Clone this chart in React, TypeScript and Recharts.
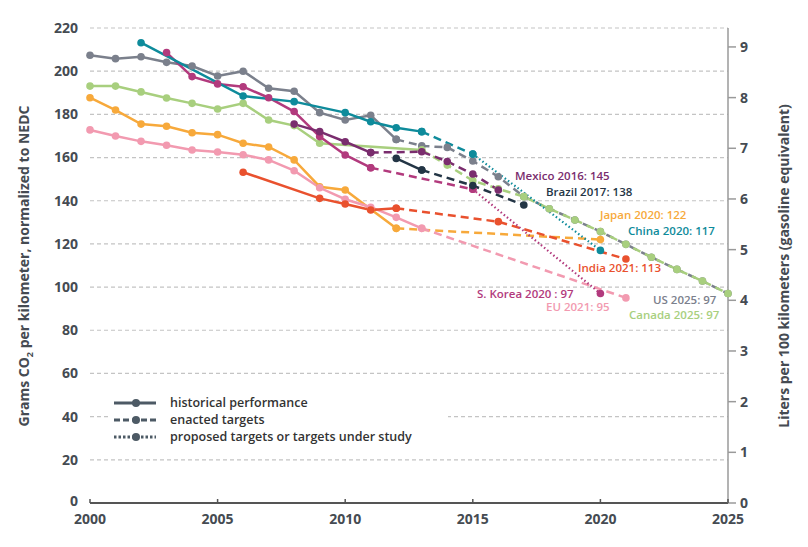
import React from "react";
import {
  CartesianGrid,
  Line,
  LineChart,
  XAxis,
  YAxis,
} from "recharts";

document.body.style.margin = "0";

const FONT = "'Open Sans', 'DejaVu Sans', sans-serif";

// [year, grams CO2/km]
const usHistorical = [
  [2000, 207.4], [2001, 205.8], [2002, 206.7], [2003, 204.1], [2004, 202.4],
  [2005, 197.8], [2006, 200], [2007, 192.1], [2008, 190.7], [2009, 180.8],
  [2010, 177.4], [2011, 179.6], [2012, 168.4],
];
const usEnacted = [
  [2012, 168.4], [2013, 165.4], [2014, 164.7], [2015, 158.4], [2016, 151.1],
  [2017, 141.9], [2018, 136.3], [2019, 131.1], [2020, 125.7], [2021, 119.8],
  [2022, 113.8], [2023, 108.2], [2024, 102.8], [2025, 97],
];
const canadaHistorical = [
  [2000, 193.1], [2001, 193.1], [2002, 190.4], [2003, 187.6], [2004, 185.1],
  [2005, 182.5], [2006, 185.1], [2007, 177.4], [2008, 174.8], [2009, 166.6],
  [2013, 163.5],
];
const canadaEnacted = [
  [2013, 163.5], [2014, 156.5], [2015, 149.3], [2016, 145.5], [2017, 141.9],
  [2018, 136.3], [2019, 131.1], [2020, 125.7], [2021, 119.8], [2022, 113.8],
  [2023, 108.2], [2024, 102.8], [2025, 97],
];
const japanHistorical = [
  [2000, 187.7], [2001, 182], [2002, 175.5], [2003, 174.5], [2004, 171.5],
  [2005, 170.6], [2006, 166.6], [2007, 164.9], [2008, 158.9], [2009, 146.5],
  [2010, 145], [2011, 136], [2012, 127.2],
];
const japanEnacted = [[2012, 127.2], [2020, 122]];
const euHistorical = [
  [2000, 172.8], [2001, 170], [2002, 167.5], [2003, 165.7], [2004, 163.5],
  [2005, 162.6], [2006, 161.3], [2007, 158.9], [2008, 153.9], [2009, 146],
  [2010, 140.7], [2011, 137], [2012, 132.3], [2013, 127.2],
];
const euEnacted = [[2013, 127.2], [2021, 95]];
const indiaHistorical = [
  [2006, 153.2], [2009, 141.1], [2010, 138.5], [2011, 135.7], [2012, 136.5],
];
const indiaEnacted = [[2012, 136.5], [2016, 130.3], [2021, 113]];
const chinaHistorical = [
  [2002, 213.2], [2006, 188.5], [2008, 185.9], [2010, 180.8], [2011, 176.6],
  [2012, 173.8], [2013, 172],
];
const chinaEnacted = [[2013, 172], [2015, 161.6]];
const chinaProposed = [[2015, 161.6], [2020, 117]];
const koreaHistorical = [
  [2003, 208.6], [2004, 197.5], [2005, 194.1], [2006, 192.8], [2007, 187.7],
  [2008, 181.3], [2009, 169.7], [2010, 161.2], [2011, 155.3],
];
const koreaEnacted = [[2011, 155.3], [2015, 145.3]];
const koreaProposed = [[2015, 145.3], [2020, 97]];
const mexicoHistorical = [[2008, 175.5], [2009, 172], [2010, 167.3], [2011, 162.3]];
const mexicoEnacted = [
  [2011, 162.3], [2013, 162.7], [2014, 158.2], [2015, 152.4], [2016, 145],
];
const brazilHistorical = [[2012, 159.6], [2013, 154.2]];
const brazilEnacted = [[2013, 154.2], [2015, 147], [2017, 138]];

const yearTicks = [2000, 2005, 2010, 2015, 2020, 2025];
const gramTicks = [0, 20, 40, 60, 80, 100, 120, 140, 160, 180, 200, 220];
const literTicks = [0, 1, 2, 3, 4, 5, 6, 7, 8, 9];
const GRAMS_PER_LITER = 23.47;

const COLORS = {
  us: "#7b808c",
  canada: "#a8cf7e",
  japan: "#f7a93b",
  eu: "#f29ab0",
  india: "#e9512e",
  china: "#0e8b9b",
  korea: "#b23a7d",
  mexico: "#7a2d6e",
  brazil: "#233545",
};

type Style = "historical" | "enacted" | "proposed";

const series: { id: string; color: string; style: Style; data: number[][] }[] = [
  { id: "usH", color: COLORS.us, style: "historical", data: usHistorical },
  { id: "usE", color: COLORS.us, style: "enacted", data: usEnacted },
  { id: "caH", color: COLORS.canada, style: "historical", data: canadaHistorical },
  { id: "caE", color: COLORS.canada, style: "enacted", data: canadaEnacted },
  { id: "jpH", color: COLORS.japan, style: "historical", data: japanHistorical },
  { id: "jpE", color: COLORS.japan, style: "enacted", data: japanEnacted },
  { id: "euH", color: COLORS.eu, style: "historical", data: euHistorical },
  { id: "euE", color: COLORS.eu, style: "enacted", data: euEnacted },
  { id: "inH", color: COLORS.india, style: "historical", data: indiaHistorical },
  { id: "inE", color: COLORS.india, style: "enacted", data: indiaEnacted },
  { id: "krH", color: COLORS.korea, style: "historical", data: koreaHistorical },
  { id: "krE", color: COLORS.korea, style: "enacted", data: koreaEnacted },
  { id: "krP", color: COLORS.korea, style: "proposed", data: koreaProposed },
  { id: "mxH", color: COLORS.mexico, style: "historical", data: mexicoHistorical },
  { id: "mxE", color: COLORS.mexico, style: "enacted", data: mexicoEnacted },
  { id: "brH", color: COLORS.brazil, style: "historical", data: brazilHistorical },
  { id: "brE", color: COLORS.brazil, style: "enacted", data: brazilEnacted },
  { id: "cnH", color: COLORS.china, style: "historical", data: chinaHistorical },
  { id: "cnE", color: COLORS.china, style: "enacted", data: chinaEnacted },
  { id: "cnP", color: COLORS.china, style: "proposed", data: chinaProposed },
];

const endLabels = [
  { text: "Mexico 2016: 145", color: COLORS.mexico, x: 515, y: 176 },
  { text: "Brazil 2017: 138", color: COLORS.brazil, x: 546, y: 192 },
  { text: "Japan 2020: 122", color: COLORS.japan, x: 600, y: 215 },
  { text: "China 2020: 117", color: COLORS.china, x: 628, y: 231 },
  { text: "India 2021: 113", color: COLORS.india, x: 578, y: 268 },
  { text: "S. Korea 2020 : 97", color: COLORS.korea, x: 477, y: 294 },
  { text: "EU 2021: 95", color: COLORS.eu, x: 546, y: 307 },
  { text: "US 2025: 97", color: COLORS.us, x: 653, y: 300 },
  { text: "Canada 2025: 97", color: COLORS.canada, x: 629, y: 315 },
];

const toPoints = (rows: number[][]) => rows.map(([year, v]) => ({ year, v }));

const dash = (style: Style) =>
  style === "enacted" ? "8 5" : style === "proposed" ? "1.5 2.5" : undefined;

const tickStyle = { fontSize: 14, fontWeight: 700, fill: "#454b52", fontFamily: FONT };

// x ticks: small mark pointing up into the plot, label below
const YearTick = (props: any) => {
  const { x, y, payload } = props;
  return (
    <g>
      <line x1={x} x2={x} y1={y} y2={y - 4} stroke="#555" strokeWidth={1.5} />
      <text x={x} y={y + 21} textAnchor="middle" {...tickStyle}>
        {payload.value}
      </text>
    </g>
  );
};

// left ticks; the 0 sits a little higher so it clears the 2000 label
const GramTick = (props: any) => {
  const { x, y, payload } = props;
  const lift = payload.value === 0 ? -2 : 0;
  return (
    <text x={x} y={y + lift} dy="0.35em" textAnchor="end" {...tickStyle}>
      {payload.value}
    </text>
  );
};

function LegendRow({ style, label }: { style: Style; label: string }) {
  return (
    <div style={{ display: "flex", alignItems: "center", height: 17 }}>
      <svg width={48} height={12} style={{ marginRight: 10, flexShrink: 0 }}>
        <line
          x1={2}
          x2={44}
          y1={6}
          y2={6}
          stroke="#4d5a65"
          strokeWidth={3}
          strokeDasharray={style === "enacted" ? "6 3" : style === "proposed" ? "2.5 2" : undefined}
        />
        <circle cx={24} cy={6} r={4} fill="#4d5a65" />
      </svg>
      <span style={{ lineHeight: "17px" }}>{label}</span>
    </div>
  );
}

export default function App() {
  return (
    <div style={{ position: "relative", width: 808, height: 547, background: "#fff", fontFamily: FONT }}>
      <LineChart width={808} height={547} margin={{ top: 28, right: 0, bottom: 0, left: 0 }}>
        <CartesianGrid
          vertical={false}
          stroke="#c4c4c4"
          strokeWidth={1.2}
          strokeDasharray="4 3"
        />
        <XAxis
          dataKey="year"
          type="number"
          domain={[2000, 2025]}
          ticks={yearTicks}
          allowDuplicatedCategory={false}
          height={44}
          tick={<YearTick />}
          tickLine={false}
          tickSize={0}
          tickMargin={0}
          axisLine={{ stroke: "#555", strokeWidth: 2 }}
        />
        <YAxis
          type="number"
          domain={[0, 220]}
          ticks={gramTicks}
          width={90}
          tick={<GramTick />}
          axisLine={false}
          tickLine={false}
          tickSize={0}
          tickMargin={12}
        />
        <YAxis
          yAxisId="right"
          orientation="right"
          type="number"
          domain={[0, 220 / GRAMS_PER_LITER]}
          allowDataOverflow
          ticks={literTicks}
          width={80}
          tick={tickStyle}
          axisLine={{ stroke: "#9a9a9a", strokeWidth: 1.5 }}
          tickLine={{ stroke: "#9a9a9a", strokeWidth: 1.5 }}
          tickSize={8}
          tickMargin={4}
        />
        {/* invisible series so the liters axis is drawn */}
        <Line
          yAxisId="right"
          data={toPoints([[2025, 97 / GRAMS_PER_LITER]])}
          dataKey="v"
          stroke="none"
          dot={false}
          activeDot={false}
          legendType="none"
          isAnimationActive={false}
        />
        {series.map((s) => (
          <Line
            key={s.id}
            data={toPoints(s.data)}
            dataKey="v"
            type="linear"
            stroke={s.color}
            strokeWidth={s.style === "proposed" ? 2.2 : 2.5}
            strokeDasharray={dash(s.style)}
            dot={{ r: 3.8, fill: s.color, strokeWidth: 0 }}
            activeDot={false}
            isAnimationActive={false}
          />
        ))}
      </LineChart>

      {/* axis titles */}
      <div style={{ position: "absolute", left: 25, top: 266, width: 0, height: 0 }}>
        <div
          style={{
            position: "absolute",
            transform: "translate(-50%, -50%) rotate(-90deg)",
            whiteSpace: "nowrap",
            fontSize: 14,
            fontWeight: 700,
            color: "#454b52",
          }}
        >
          Grams CO<sub style={{ fontSize: 9 }}>2</sub> per kilometer, normalized to NEDC
        </div>
      </div>
      <div style={{ position: "absolute", left: 783, top: 266, width: 0, height: 0 }}>
        <div
          style={{
            position: "absolute",
            transform: "translate(-50%, -50%) rotate(-90deg)",
            whiteSpace: "nowrap",
            fontSize: 14,
            fontWeight: 700,
            color: "#454b52",
          }}
        >
          Liters per 100 kilometers (gasoline equivalent)
        </div>
      </div>

      {/* end-of-series labels */}
      {endLabels.map((l) => (
        <div
          key={l.text}
          style={{
            position: "absolute",
            left: l.x,
            top: l.y - 8,
            fontSize: 11.5,
            lineHeight: "16px",
            fontWeight: 600,
            color: l.color,
            whiteSpace: "nowrap",
          }}
        >
          {l.text}
        </div>
      ))}

      {/* legend */}
      <div
        style={{
          position: "absolute",
          left: 108,
          top: 392,
          width: 336,
          padding: "2px 0 2px 4px",
          background: "#fff",
          fontSize: 12.5,
          fontWeight: 600,
          color: "#333",
        }}
      >
        <LegendRow style="historical" label="historical performance" />
        <LegendRow style="enacted" label="enacted targets" />
        <LegendRow style="proposed" label="proposed targets or targets under study" />
      </div>
    </div>
  );
}
